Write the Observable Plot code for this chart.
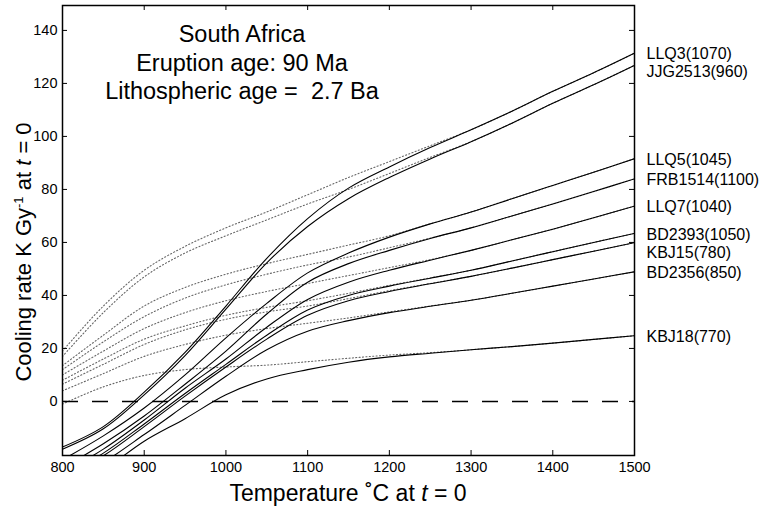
<!DOCTYPE html>
<html><head><meta charset="utf-8">
<script src="https://cdn.jsdelivr.net/npm/d3@7"></script>
<script src="https://cdn.jsdelivr.net/npm/@observablehq/plot@0.6"></script>
<style>
body{margin:0;background:#fff}
svg{font-family:"Liberation Sans",Arial,Helvetica,sans-serif}
</style>
</head><body><div id="chart"></div>
<script>
// Temperature grid (°C at t = 0)
const temps = [800, 850, 900, 950, 1000, 1050, 1100, 1150, 1200, 1250, 1300, 1350, 1400, 1450, 1500];
const sampleNames = ["LLQ3(1070)", "JJG2513(960)", "LLQ5(1045)", "FRB1514(1100)", "LLQ7(1040)", "BD2393(1050)", "KBJ15(780)", "BD2356(850)", "KBJ18(770)"];

// Solid curves: cooling rate (K/Gy)
const LLQ3_solid    = [-17.2, -9.5, 3.5, 18.5, 36, 54, 69, 80.5, 88.5, 95.8, 102.5, 109.5, 117, 124, 131.4];
const JJG2513_solid = [-18, -10.3, 2.5, 17.3, 34.8, 52.3, 66, 76.5, 84.5, 91.5, 98, 105, 112.5, 119.5, 126.8];
const LLQ5_solid    = [-22, -13, -2.5, 10, 24, 37, 48.5, 56, 62, 67, 71.5, 76.5, 81.5, 86.5, 91.6];
const FRB1514_solid = [-25, -16, -5.5, 6.5, 19, 33, 45, 52, 57, 61.5, 65.5, 70, 74.5, 79.2, 84];
const LLQ7_solid    = [-27, -18, -7, 5, 16, 28, 38.5, 45, 49.5, 53.3, 57, 61, 65, 69.3, 73.7];
const BD2393_solid  = [-28, -19.5, -8.5, 3, 14, 25, 34.5, 40, 43.5, 46.5, 49.5, 53, 56.5, 60, 63.4];
const KBJ15_solid   = [-29, -20.5, -9.5, 2, 13, 23.5, 32.5, 38, 41.5, 44.4, 47.2, 50.3, 53.5, 56.7, 59.9];
const BD2356_solid  = [-31, -23, -12.5, -1.5, 9.5, 19.5, 26.5, 30.5, 33.5, 35.9, 38.2, 40.8, 43.5, 46.2, 48.9];
const KBJ18_solid   = [-35, -26, -15, -6.5, 2.5, 8.5, 12, 14.8, 16.8, 18.2, 19.5, 20.7, 22, 23.4, 24.8];

// Dotted curves
const LLQ3_dotted    = [19, 36, 49.5, 58.5, 65.5, 71.5, 78, 84.5, 90.5, 96.5, 102.5, 109.5, 117, 124, 131.4];
const JJG2513_dotted = [17, 33.5, 47, 56, 62.5, 68.5, 74.5, 80, 86, 92.1, 98, 105, 112.5, 119.5, 126.8];
const LLQ5_dotted    = [13.5, 25, 36, 43, 48, 52, 55.5, 59, 62.5, 67, 71.5, 76.5, 81.5, 86.5, 91.6];
const FRB1514_dotted = [12, 22.5, 32, 39, 44, 48, 51.5, 54.5, 58, 61.6, 65.5, 70, 74.5, 79.2, 84];
const LLQ7_dotted    = [10, 19, 27.5, 33.5, 38, 41.5, 44.5, 47.5, 50.5, 53.5, 57, 61, 65, 69.3, 73.7];
const BD2393_dotted  = [8, 16, 23.5, 28.5, 32.5, 35.5, 38, 40.8, 43.8, 46.6, 49.5, 53, 56.5, 60, 63.4];
const KBJ15_dotted   = [6.5, 14, 21.5, 27, 31, 33.8, 36, 38.8, 41.8, 44.5, 47.2, 50.3, 53.5, 56.7, 59.9];
const BD2356_dotted  = [4, 10.5, 17, 21.5, 25, 27.5, 29.5, 31.5, 33.8, 36, 38.2, 40.8, 43.5, 46.2, 48.9];
const KBJ18_dotted   = [-1, 5.5, 9.8, 12, 13, 13.7, 15, 16.3, 17.5, 18.4, 19.5, 20.7, 22, 23.4, 24.8];

const xTicks = [800, 900, 1000, 1100, 1200, 1300, 1400, 1500];
const yTicks = [0, 20, 40, 60, 80, 100, 120, 140];

const solids = [LLQ3_solid, JJG2513_solid, LLQ5_solid, FRB1514_solid, LLQ7_solid, BD2393_solid, KBJ15_solid, BD2356_solid, KBJ18_solid];
const dotteds = [LLQ3_dotted, JJG2513_dotted, LLQ5_dotted, FRB1514_dotted, LLQ7_dotted, BD2393_dotted, KBJ15_dotted, BD2356_dotted, KBJ18_dotted];

const solidRows = solids.flatMap((arr, i) => arr.map((v, j) => ({T: temps[j], v, name: sampleNames[i]})));
const dottedRows = dotteds.flatMap((arr, i) => arr.map((v, j) => ({T: temps[j], v, name: sampleNames[i]})));

// labels at curve ends, dodged to avoid overlap
const gap = 6.8;
let prev = Infinity;
const labels = solids.map((arr, i) => {
  let y = arr[arr.length - 1];
  if (prev - y < gap) y = prev - gap;
  prev = y;
  return {name: sampleNames[i], y};
});

const W = 759, H = 510;
const mL = 62, mR = 125, mT = 5, mB = 55;
const pw = W - mL - mR, ph = H - mT - mB;

const chart = Plot.plot({
  width: W, height: H,
  marginLeft: mL, marginRight: mR, marginTop: mT, marginBottom: mB,
  style: {fontSize: "14.5px", color: "#000", background: "#fff", fontFamily: "Liberation Sans, Arial, sans-serif"},
  x: {domain: [800, 1500], ticks: xTicks, tickSize: 0, tickPadding: 6, tickFormat: d3.format("d"), label: null},
  y: {domain: [-20.4, 149.4], ticks: yTicks, tickSize: 0, tickPadding: 5, tickFormat: d3.format("d"), label: null},
  marks: [
    Plot.line(dottedRows, {x: "T", y: "v", z: "name", curve: "catmull-rom", stroke: "#666", strokeWidth: 1.1, strokeDasharray: "1.1,2.3", clip: true}),
    Plot.line(solidRows, {x: "T", y: "v", z: "name", curve: "catmull-rom", stroke: "#000", strokeWidth: 1.1, clip: true}),
    Plot.ruleY([0], {stroke: "#000", strokeWidth: 1.6, strokeDasharray: "16,14"}),
    Plot.tickY(yTicks, {y: d => d, insetRight: pw - 5, stroke: "#000"}),
    Plot.tickY(yTicks, {y: d => d, insetLeft: pw - 5, stroke: "#000"}),
    Plot.tickX(xTicks, {x: d => d, insetBottom: ph - 5, stroke: "#000"}),
    Plot.tickX(xTicks, {x: d => d, insetTop: ph - 5, stroke: "#000"}),
    Plot.frame({stroke: "#000", strokeWidth: 1.5}),
    Plot.text(labels, {x: () => 1500, y: "y", text: "name", textAnchor: "start", dx: 12, dy: 1, fontSize: 16, fill: "#000"})
  ]
});

document.getElementById("chart").appendChild(chart);
const svg = d3.select(chart);

// Annotation block
const ann = ["South Africa", "Eruption age: 90 Ma", "Lithospheric age =  2.7 Ba"];
const annBase = [42, 70.5, 99];
ann.forEach((t, i) => {
  svg.append("text").attr("x", 242).attr("y", annBase[i]).attr("text-anchor", "middle")
    .attr("font-size", 23.5).attr("fill", "#000").style("white-space", "pre").attr("xml:space", "preserve").text(t);
});

// Y axis title
const yl = svg.append("text").attr("transform", "translate(31,252) rotate(-90)")
  .attr("text-anchor", "middle").attr("font-size", 22).attr("fill", "#000");
yl.append("tspan").text("Cooling rate K Gy");
yl.append("tspan").attr("font-size", 13).attr("dy", -8).text("-1");
yl.append("tspan").attr("dy", 8).text(" at ");
yl.append("tspan").attr("font-style", "italic").text("t");
yl.append("tspan").text(" = 0");

// X axis title
const xl = svg.append("text").attr("x", 348).attr("y", 501)
  .attr("text-anchor", "middle").attr("font-size", 23).attr("fill", "#000");
xl.append("tspan").text("Temperature \u02DAC at ");
xl.append("tspan").attr("font-style", "italic").text("t");
xl.append("tspan").text(" = 0");
</script>
</body></html>
